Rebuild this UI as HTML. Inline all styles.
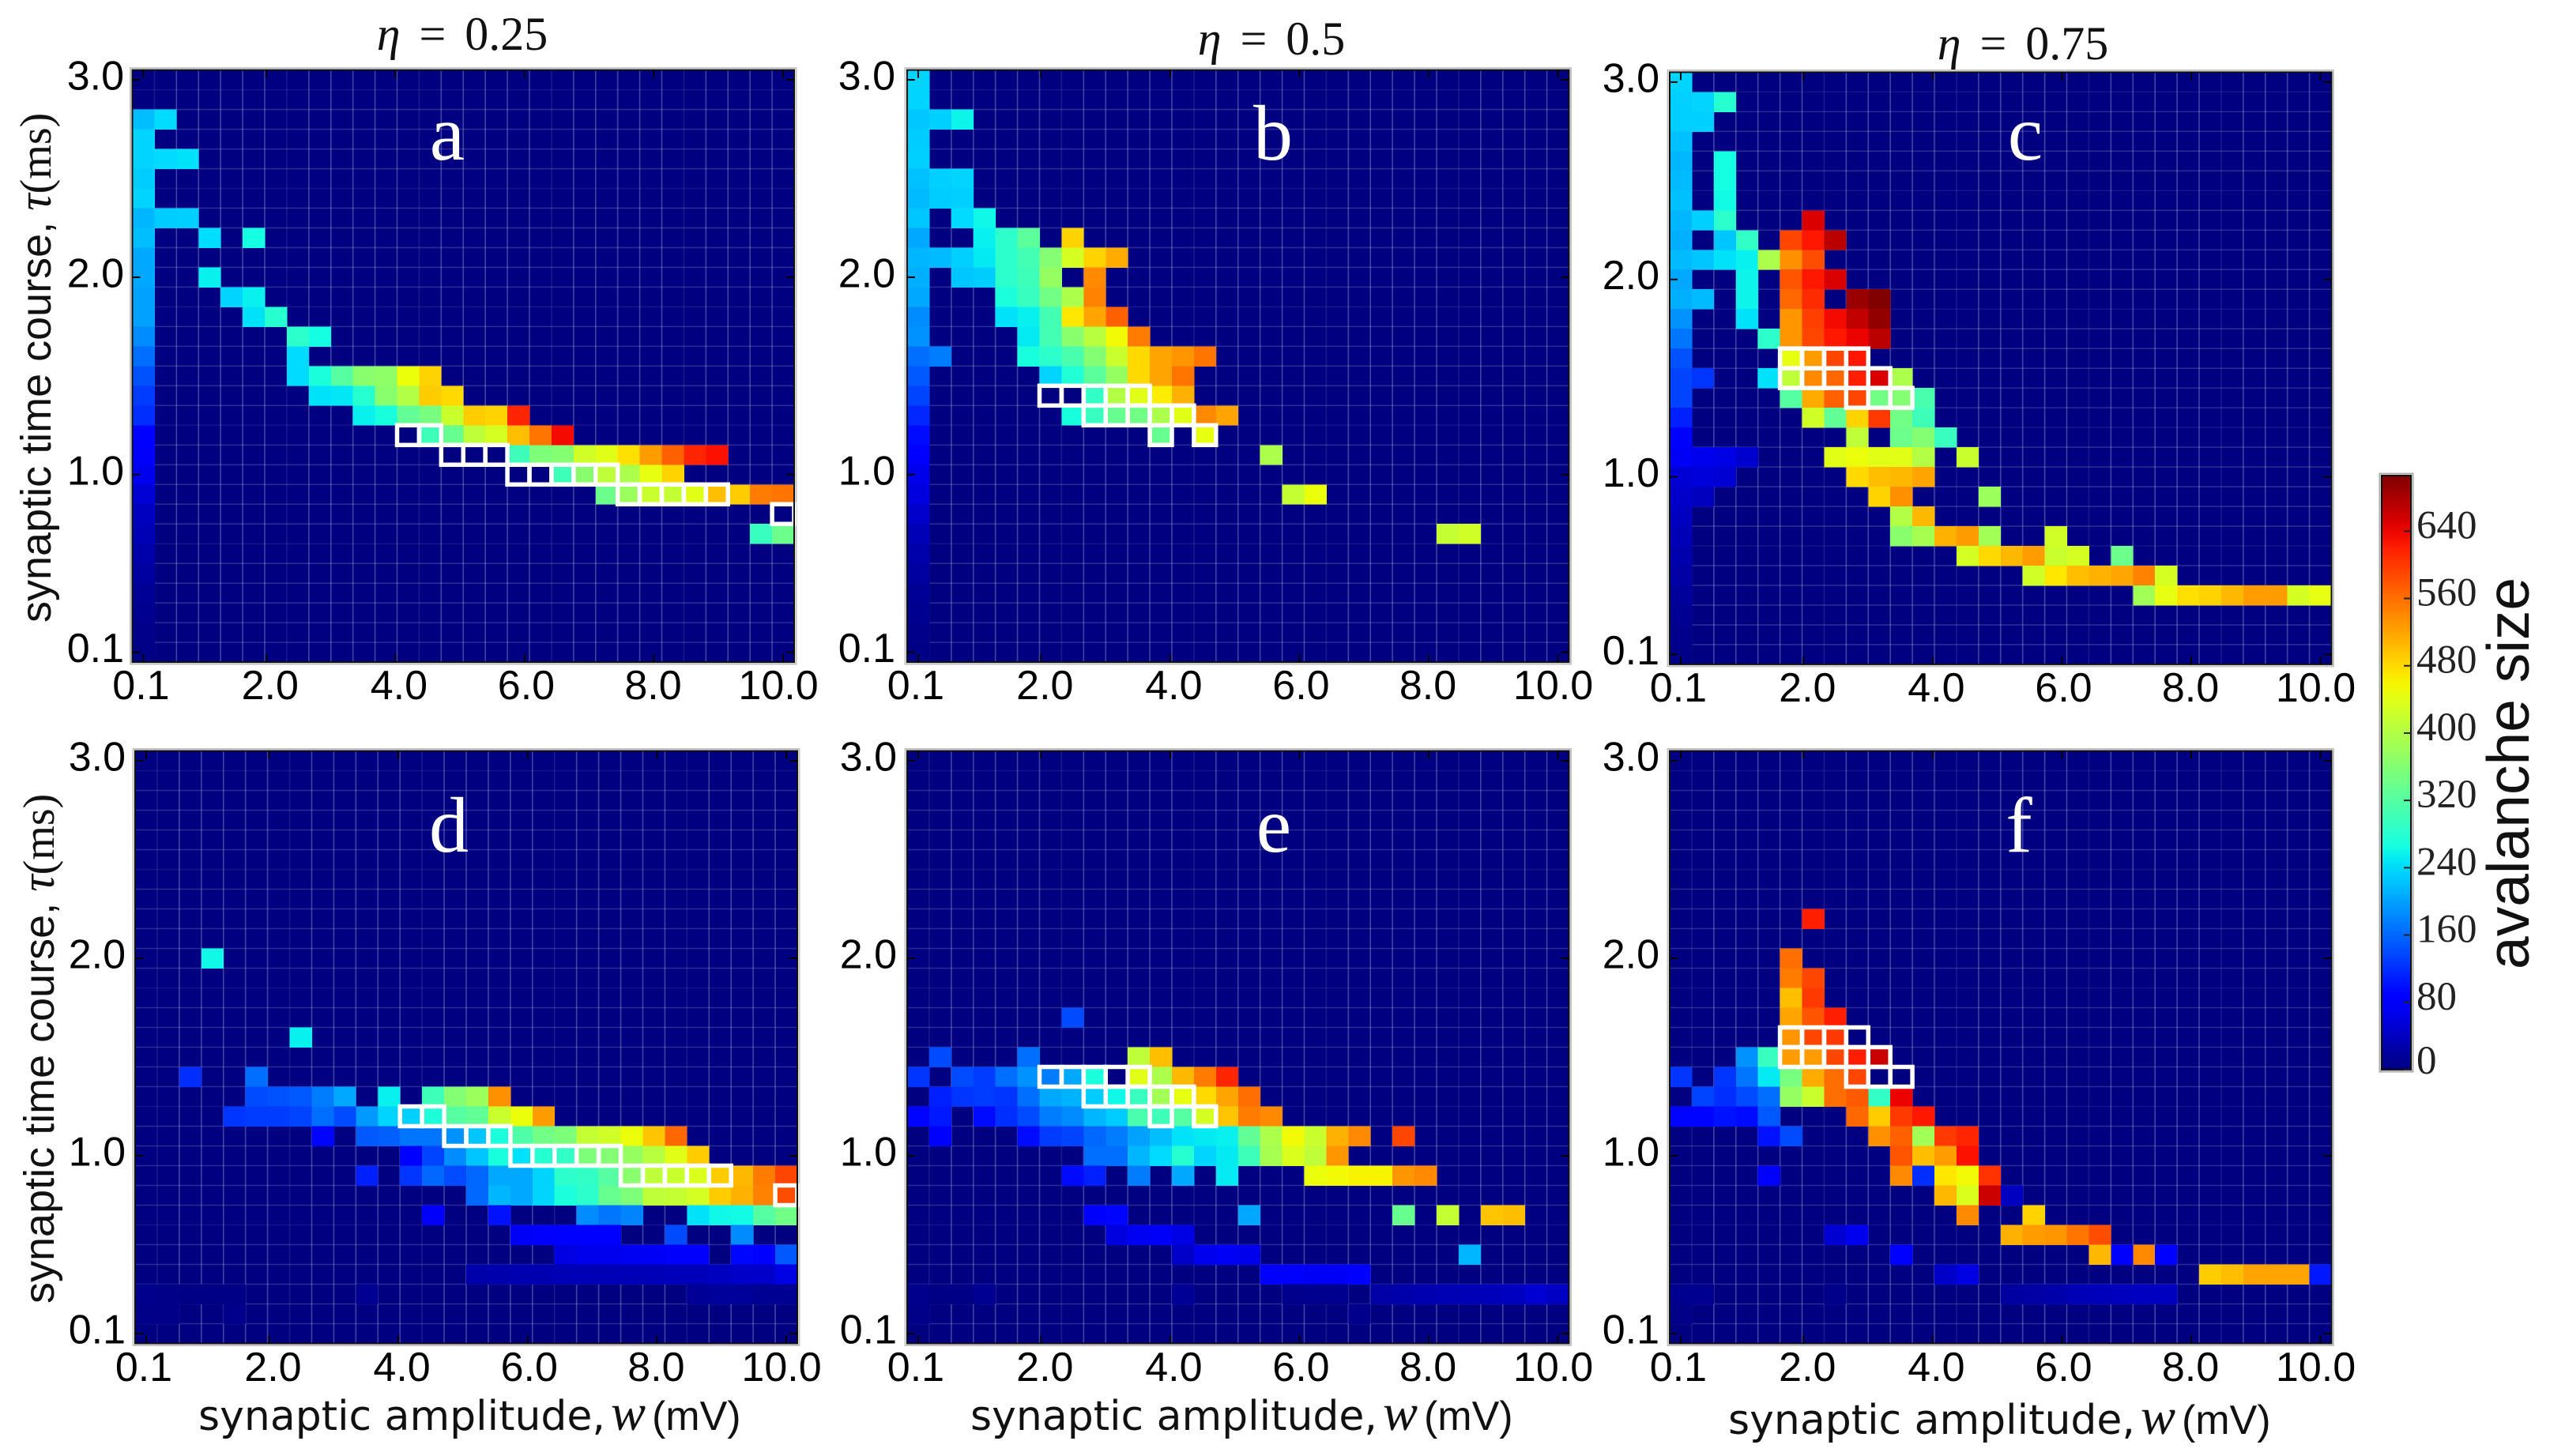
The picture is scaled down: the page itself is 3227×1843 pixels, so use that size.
<!DOCTYPE html>
<html>
<head>
<meta charset="utf-8">
<title>Avalanche size heatmaps</title>
<style>
html,body{margin:0;padding:0;background:#fff;}
svg{display:block;}
.tick{font-family:"Liberation Sans",sans-serif;font-size:52px;fill:#000;}
.axis{font-family:"Liberation Sans",sans-serif;fill:#111;}
.xtitle{font-family:"DejaVu Sans",sans-serif;fill:#111;}
.math{font-family:"Liberation Serif",serif;}
.ital{font-family:"Liberation Serif",serif;font-style:italic;}
.lib{font-family:"Liberation Sans",sans-serif;}
</style>
</head>
<body>
<svg id="chart" xmlns="http://www.w3.org/2000/svg" width="3227" height="1843" viewBox="0 0 3227 1843"></svg>
<script>
// Each entry: [row from the top (tau = 3.0 at row 0), first column (w = 0.1 at column 0), values...]
const cellsA = [
[2,0,220,240],[3,0,235],[4,0,235,240,245],[5,0,230],[6,0,235],[7,0,215,230,232],
[8,0,220],[8,3,242],[8,5,265],[9,0,205],[10,0,205],[10,3,255],[11,0,200],[11,4,235,255],
[12,0,200],[12,5,245,280],[13,0,185],[13,7,285,265],[14,0,165],[14,7,240],
[15,0,145],[15,7,240,270,320,365,370,450,485],[16,0,130],[16,8,245,248,280,365,400,490,480],
[17,0,120],[17,10,255,268,330,350,420,490,485,615],[18,0,85],[18,12,0,300,335,410,430,500,555,635],
[19,0,75],[19,14,0,0,0,300,355,360,425,440,475,525,570,615,630],
[20,0,68],[20,17,0,0,300,365,410,395,445,485],[21,0,52],[21,21,340,380,420,415,440,500,490,550,555],
[22,0,40],[22,29,0],[23,0,33],[23,28,295,340],[24,0,26],[25,0,20],[26,0,14],[27,0,10],[28,0,7],[29,0,4]
];
const cellsB = [
[0,0,235],[1,0,235],[2,0,225,232,258],[3,0,230],[4,0,232],[5,0,222,232,235],[6,0,218,230,232],
[7,0,225],[7,2,240,260],[8,0,205],[8,3,255,285,325],[8,7,485],
[9,0,215,218,232,250,285,305,360,430,485,515],[10,0,210],[10,2,225,230,285,300,375,0,540],
[11,0,205],[11,4,270,295,345,395,545],[12,0,185],[12,4,245,255,305,470,520,570],
[13,0,190],[13,5,250,305,365,405,455,550],[14,0,165,175],[14,5,268,285,310,360,420,480,520,530,555],
[15,0,150],[15,6,235,275,325,375,480,520,555],[16,0,135],[16,6,0,0,290,400,440,465,510],
[17,0,115],[17,7,268,295,335,345,395,440,540,520],[18,0,95],[18,11,335],[18,13,445],
[19,0,80],[19,16,395],[20,0,65],[21,0,58],[21,17,415,450],[22,0,46],[23,0,34],[23,24,415,425],
[24,0,26],[25,0,20],[26,0,14],[27,0,10],[28,0,7],[29,0,4]
];
const cellsC = [
[0,0,235],[1,0,232,235,280],[2,0,232,232],[3,0,222],[4,0,215],[4,2,265],[5,0,218],[5,2,265],
[6,0,222],[6,2,262],[7,0,215,232,285],[7,6,650],[8,0,210],[8,2,225,290],[8,5,590,625,670],
[9,0,218,225,245,255,395,535,585],[10,0,205],[10,3,258],[10,5,580,625,650],
[11,0,210,218],[11,3,258],[11,5,565,610],[11,8,690,705],[12,0,190],[12,3,245],[12,5,530,595,635,665,695],
[13,0,170],[13,4,285,530,590,625,640,670],[14,0,145],[14,5,445,525,590,625],
[15,0,135,125],[15,4,245,410,540,565,620,650,395],[16,0,135],[16,5,320,515,570,590,345,360,310],
[17,0,110],[17,6,425,330,485,600,345,300],[18,0,85],[18,8,410],[18,10,340,360,295],
[19,0,72,68,62,48],[19,7,440,450,440,440,400],[19,13,420],[20,0,52,56,50],[20,8,480,500,505,520],
[21,0,46,38],[21,9,485,535],[21,14,380],[22,0,40],[22,10,400,505],[23,0,34],[23,10,365,390,510,525,385],[23,17,425],
[24,0,28],[24,13,430,480,505,525,420,430],[24,20,340],[25,0,22],[25,16,425,470,500,510,520,545,430],
[26,0,16],[26,21,385,445,475,485,505,525,525,430,445],[27,0,11],[28,0,8],[29,0,5]
];
const cellsD = [
[10,3,260],[14,7,255],[16,2,120],[16,5,165],[17,5,140,145,150,175,205],[17,11,255],[17,13,300,360,380,535],
[18,4,125,130,130,135,165,140,195,235,232,272,320,330,420,450,525],
[19,8,90],[19,10,150,155,170,170,190,225,270,315,345,355,415,425,450,495,565],
[20,12,85,135,185,225,268,245,280,290,355,360,375,405,440,490],
[21,10,110],[21,12,125,160,140,160,205,205,235,285,290,320,365,410,420,435,490,505,550,590],
[22,15,160,215,205,235,270,285,335,355,410,415,430,490,510,545,585],
[23,13,75],[23,16,100],[23,20,185,170,180],[23,25,245,260,262,320,345],
[24,17,72,76,84,88,84],[24,24,140],[24,27,185],[25,19,60,66,68,70,72,76,76],[25,27,92,78,150],
[26,15,26,28,30,30,32,32,34,34,34,36,36,40,44,46,62],
[27,0,8,5,4,4,4],[27,10,12],[27,25,14,16,16,12,12],[28,0,6,6],[28,4,8]
];
const cellsE = [
[13,7,140],[15,1,140],[15,5,165],[15,10,410,500],
[16,0,125],[16,2,140,130,165,190,175,205,270,0,440,395,505,550,615],
[17,1,110,125,130,125,165,205,212,230,260,295,385,445,480,520,560],
[18,0,90,105],[18,3,95,120,140,175,185,215,230,310,300,320,430,495,550,540],
[19,1,80],[19,5,95,130,135,160,175,200,220,245,250,255,330,395,455,420,510,540],[19,22,590],
[20,8,165,165,215,240,280,235,250,300,390,435,410,530],
[21,7,95,110],[21,10,175],[21,12,205],[21,14,250],[21,18,450,455,460,460,530,540],
[23,8,80,90],[23,15,205],[23,22,335],[23,24,415],[23,26,495,500],
[24,9,58,70,74,62],[25,12,44,68,72,66],[25,25,215],[26,16,76,80,74,74,84],
[27,0,8,4,4,12],[27,12,14],[27,17,8,9,9],[27,21,24,26,30,32,34,36,40,50,42],[28,0,6],[28,20,8]
];
const cellsF = [
[8,6,620],[10,5,560],[11,5,550,590],[12,5,500,600],[13,5,520,580,620],[14,5,530,590,600,0],
[15,3,190,295,525,525,590,620,660],[16,0,125],[16,2,125,170,250,350,515,560,590,0,0],
[17,1,135,120,140,165,375,420,560,575,290,640],[18,0,90,90,100,95,150],[18,8,565,490,600,625],
[19,4,100,140],[19,9,535,570,385,600,615],[20,10,580,500,525,630],[21,4,85],[21,10,540,120,470,455,605],
[22,12,505,435,660,40],[23,13,540],[23,16,485],[24,7,50,68],[24,15,510,525,530,555,585],
[25,10,85],[25,19,505,85,540,85],[26,12,44,60],[26,24,490,500,520,520,520,105],
[27,0,10,10],[27,7,7],[27,15,20,22,26,34,36,38,40,40],[28,0,5]
];
// Outlined (white) cells per row: [row, columns...]
const boxesAD = [[18,12,13],[19,14,15,16],[20,17,18,19,20,21],[21,22,23,24,25,26],[22,29]];
const boxesBE = [[16,6,7,8,9,10],[17,8,9,10,11,12],[18,11,13]];
const boxesCF = [[14,5,6,7,8],[15,5,6,7,8,9],[16,8,9,10]];
const xTickValues = [0.1,2,4,6,8,10];
const xTickLabels = ['0.1','2.0','4.0','6.0','8.0','10.0'];
const yTickValues = [0.1,1,2,3];
const yTickLabels = ['0.1','1.0','2.0','3.0'];
const colorbarTicks = [0,80,160,240,320,400,480,560,640];
const colorMax = 706;
const columnCount = 30;
const rowCount = 30;

const NS = 'http://www.w3.org/2000/svg';
const svg = document.getElementById('chart');

function jet(t){
  function seg(p){
    for(let i=1;i<p.length;i++){
      if(t<=p[i][0]){
        const a=p[i-1],b=p[i];
        return a[1]+(b[1]-a[1])*(t-a[0])/(b[0]-a[0]);
      }
    }
    return p[p.length-1][1];
  }
  const r=seg([[0,0],[.35,0],[.66,1],[.89,1],[1,.5]]);
  const g=seg([[0,0],[.125,0],[.375,1],[.64,1],[.91,0],[1,0]]);
  const b=seg([[0,.5],[.11,1],[.34,1],[.65,0],[1,0]]);
  return 'rgb('+Math.round(r*255)+','+Math.round(g*255)+','+Math.round(b*255)+')';
}
function make(tag,attrs,parent){
  const el=document.createElementNS(NS,tag);
  for(const k in attrs){el.setAttribute(k,attrs[k]);}
  (parent||svg).appendChild(el);
  return el;
}
function addTspan(parent,text,cls,extra){
  const t=document.createElementNS(NS,'tspan');
  if(cls){t.setAttribute('class',cls);}
  if(extra){for(const k in extra){t.setAttribute(k,extra[k]);}}
  t.textContent=text;
  parent.appendChild(t);
  return t;
}

const panels = [
 {id:'a',cells:cellsA,boxes:boxesAD,x:167.5,y:88.6,w:837.5,h:749.5,ylab:157,xbase:885,letter:'a',lx:566,ly:202},
 {id:'b',cells:cellsB,boxes:boxesBE,x:1148,y:88.6,w:837.5,h:749.5,ylab:1133,xbase:885,letter:'b',lx:1611,ly:202},
 {id:'c',cells:cellsC,boxes:boxesCF,x:2113,y:91.4,w:837.5,h:749.5,ylab:2100,xbase:888,letter:'c',lx:2563,ly:202},
 {id:'d',cells:cellsD,boxes:boxesAD,x:171,y:950.5,w:838,h:750,ylab:159,xbase:1748,letter:'d',lx:568,ly:1078},
 {id:'e',cells:cellsE,boxes:boxesBE,x:1148,y:950.5,w:837.5,h:750,ylab:1135,xbase:1748,letter:'e',lx:1612,ly:1078},
 {id:'f',cells:cellsF,boxes:boxesCF,x:2113,y:950.5,w:837.5,h:750,ylab:2100,xbase:1748,letter:'f',lx:2555,ly:1078}
];
const xLabelNudge = [-3,5,4.5,2,-1,-6];

panels.forEach(function(p){
  const cw=p.w/columnCount, ch=p.h/rowCount;
  const colX=function(c){return p.x+c*cw;};
  const rowY=function(r){return p.y+r*ch;};
  // axis functions: w=0.1 is the centre of column 0, w=10 the centre of column 29; tau likewise
  const xScale=function(v){return colX(0.5+(v-0.1)/(9.9/29));};
  const yScale=function(v){return rowY(0.5+(3-v)/0.1);};
  const g=make('g',{});
  
  

  const halo=make('rect',{x:p.x-2.5,y:p.y-2.5,width:p.w+5,height:p.h+5,fill:'none',stroke:'#c4c4c4','stroke-width':2},g);
  
  

  const bg=make('rect',{x:p.x,y:p.y,width:p.w,height:p.h,fill:jet(0)},g);
  
  

  for(let c=1;c<columnCount;c++){
    const vl=make('line',{x1:colX(c),x2:colX(c),y1:p.y,y2:p.y+p.h,stroke:'#fff','stroke-opacity':(c-1)%6===0?0.1:0.26,'stroke-width':1.6},g);
    
    
  }
  for(let r=1;r<rowCount;r++){
    const hl=make('line',{x1:p.x,x2:p.x+p.w,y1:rowY(r),y2:rowY(r),stroke:'#fff','stroke-opacity':r%6===0||r===1?0.08:0.17,'stroke-width':1.6},g);
    
    
  }

  p.cells.forEach(function(run){
    for(let i=2;i<run.length;i++){
      const v=run[i];
      if(v===0){continue;}
      const rect=make('rect',{x:colX(run[1]+i-2),y:rowY(run[0]),width:cw+0.4,height:ch+0.4,fill:jet(v/colorMax),'shape-rendering':'crispEdges'},g);
      
      
    }
  });

  p.boxes.forEach(function(row){
    for(let i=1;i<row.length;i++){
      const b=make('rect',{x:colX(row[i]),y:rowY(row[0]),width:cw,height:ch,fill:'none',stroke:'#fff','stroke-width':5.5},g);
      
      
    }
  });

  const frame=make('rect',{x:p.x,y:p.y,width:p.w,height:p.h,fill:'none',stroke:'#111','stroke-width':2},g);
  
  

  xTickValues.forEach(function(v,i){
    const x=xScale(v);
    const t1=make('line',{x1:x,x2:x,y1:p.y+p.h,y2:p.y+p.h-10,stroke:'#000','stroke-width':2},g);
    
    
    const t2=make('line',{x1:x,x2:x,y1:p.y,y2:p.y+10,stroke:'#000','stroke-width':2},g);
    
    
    const lab=make('text',{x:x+xLabelNudge[i],y:p.xbase,'text-anchor':'middle','class':'tick'},g);
    
    
    lab.textContent=xTickLabels[i];
  });
  yTickValues.forEach(function(v,i){
    const y=yScale(v);
    const t1=make('line',{x1:p.x,x2:p.x+10,y1:y,y2:y,stroke:'#000','stroke-width':2},g);
    
    
    const t2=make('line',{x1:p.x+p.w,x2:p.x+p.w-10,y1:y,y2:y,stroke:'#000','stroke-width':2},g);
    
    
    const lab=make('text',{x:p.ylab,y:y+12.5,'text-anchor':'end','class':'tick'},g);
    
    
    lab.textContent=yTickLabels[i];
  });

  const letter=make('text',{x:p.lx,y:p.ly,'text-anchor':'middle',fill:'#fff','font-family':'"Liberation Serif",serif','font-size':100},g);
  
  
  letter.textContent=p.letter;
});

// column titles
[{x:585,y:63,v:'0.25'},{x:1609,y:69,v:'0.5'},{x:2560,y:75,v:'0.75'}].forEach(function(tt){
  const t=make('text',{x:tt.x,y:tt.y,'text-anchor':'middle','font-size':60,fill:'#111'});
  
  
  addTspan(t,'η','ital');
  addTspan(t,' = ','math',{dx:9});
  addTspan(t,tt.v,'math',{dx:9});
});

// y axis titles
[{x:64,y:788},{x:68,y:1650}].forEach(function(o){
  const t=make('text',{x:o.x,y:o.y,transform:'rotate(-90 '+o.x+' '+o.y+')','class':'axis','font-size':54});
  
  
  addTspan(t,'synaptic time course,');
  addTspan(t,'τ','ital',{dx:14,'font-size':60});
  addTspan(t,'(ms)','math',{'font-size':56});
});

// x axis titles
[{x:251,y:1810},{x:1228,y:1810},{x:2187,y:1815}].forEach(function(o){
  const t=make('text',{x:o.x,y:o.y,'class':'xtitle','font-size':52});
  
  
  addTspan(t,'synaptic amplitude,');
  addTspan(t,'w','ital',{dx:7,'font-size':66});
  addTspan(t,'(mV)','lib',{dx:8,'font-size':52});
});

// colorbar
const defs=make('defs',{});
const grad=make('linearGradient',{id:'jetGradient',x1:0,y1:1,x2:0,y2:0},defs);
for(let i=0;i<=40;i++){
  make('stop',{offset:i/40,'stop-color':jet(i/40)},grad);
}
const cbX=3014,cbY=602,cbW=37,cbH=752;
const cbScale=function(v){return cbY+cbH-(v/colorMax)*cbH;};
const cbOuter=make('rect',{x:cbX-2.5,y:cbY-2.5,width:cbW+5,height:cbH+5,fill:'none',stroke:'#aaa','stroke-width':2});


const cb=make('rect',{x:cbX,y:cbY,width:cbW,height:cbH,fill:'url(#jetGradient)',stroke:'#111','stroke-width':2});


colorbarTicks.forEach(function(v){
  const y=cbScale(v);
  const tk=make('line',{x1:cbX+cbW,x2:cbX+cbW-9,y1:y,y2:y,stroke:'#222','stroke-width':2});
  
  
  const lab=make('text',{x:3058,y:y+(v===0?5:9),'font-family':'"Liberation Serif",serif','font-size':51,fill:'#222'});
  
  
  lab.textContent=String(v);
});
const cbTitle=make('text',{x:3200,y:1227,transform:'rotate(-90 3200 1227)','class':'axis','font-size':75,fill:'#000'});


cbTitle.textContent='avalanche size';
</script>
</body>
</html>
